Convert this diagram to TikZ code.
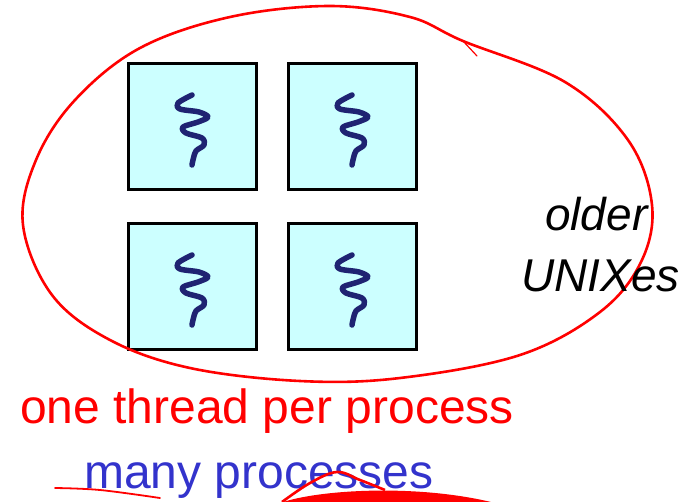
\documentclass[tikz,border=0pt]{standalone}
\usepackage{fontspec}
\setmainfont{Liberation Sans}
\definecolor{boxfill}{HTML}{CCFFFF}
\definecolor{thread}{HTML}{1F2372}
\definecolor{redpen}{HTML}{FF0000}
\definecolor{bluetxt}{HTML}{3333CC}
\begin{document}
\begin{tikzpicture}[x=1pt,y=-1pt,
  procbox/.style={draw=black,line width=3pt,fill=boxfill,rectangle,minimum width=128pt,minimum height=126pt,inner sep=0pt},
  threadline/.style={draw=thread,line width=5.5pt,line cap=round,line join=round},
  pen/.style={draw=redpen,line width=2.6pt,line cap=round,line join=round},
  bigtxt/.style={font=\fontsize{48}{56}\selectfont,inner sep=0pt,anchor=base west},
  sidetxt/.style={font=\fontsize{46}{54}\selectfont\itshape,inner sep=0pt,anchor=base west}]
\useasboundingbox (0,0) rectangle (693,501);
\clip (0,0) rectangle (693,501);
\node[procbox] (p1) at (192,126) {};
\node[procbox] (p2) at (352,126) {};
\node[procbox] (p3) at (192,286) {};
\node[procbox] (p4) at (352,286) {};
\foreach \b in {p1,p2,p3,p4}{
  \begin{scope}[shift={(\b.center)}]
    \draw[threadline] plot[smooth,tension=0.55] coordinates {(0,-31) (-14,-23) (-12,-17) (7,-14) (16,-9) (6,-4) (-9,1) (-6,7) (10,12) (12,19) (4,25) (1,34) (0,39)};
  \end{scope}
}
% hand-drawn ellipse
\draw[pen] plot[smooth cycle,tension=0.6] coordinates {(463,41) (565,82) (628,140) (652,205) (641,262) (600,312) (520,355) (400,378) (300,381) (190,368) (110,340) (52,295) (23,225) (36,160) (75,100) (140,48) (230,17) (330,6) (410,17)};
\coordinate (tip) at (463,41);
\draw[redpen,line width=1.2pt,line cap=round] (477,56) -- (tip) -- (455,38);
\node[sidetxt] (older) at (545,230) {older};
\node[sidetxt] (unix) at (521,291) {UNIXes};
\node[bigtxt,text=redpen] (one) at (20,423) {one thread per process};
\node[bigtxt,text=bluetxt] (many) at (84,488) {many processes};
% scribbles at bottom
\draw[redpen,line width=1.8pt,line cap=round] plot[smooth,tension=0.6] coordinates {(55,488) (100,490) (160,498)};
\fill[redpen] (280,503) .. controls (320,489) and (420,484) .. (495,503) -- cycle;
\draw[redpen,line width=2.6pt] plot[smooth,tension=0.6] coordinates {(282,502) (310,483) (337,472) (360,480) (385,490)};
\end{tikzpicture}
\end{document}
